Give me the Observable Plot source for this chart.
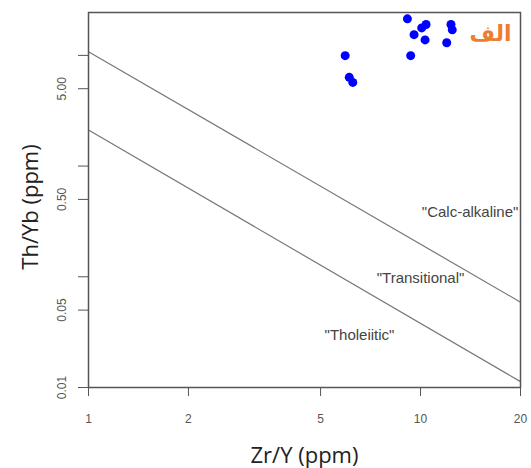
<!DOCTYPE html>
<html>
<head>
<meta charset="utf-8">
<script src="https://cdn.jsdelivr.net/npm/d3@7"></script>
<script src="https://cdn.jsdelivr.net/npm/@observablehq/plot@0.6"></script>
<style>
  html, body { margin: 0; padding: 0; background: #fff; }
  #chart svg { display: block; }
</style>
</head>
<body>
<div id="chart"></div>
<script>
// Samples
const zrY  = [9.13, 10.39, 10.08, 9.56, 10.32, 12.35, 12.46, 11.99, 5.93, 9.34, 6.10, 6.25];
const thYb = [21.4, 19.0, 17.7, 15.4, 13.8, 19.0, 17.0, 13.0, 9.94, 9.94, 6.33, 5.70];

// Discrimination boundaries (endpoints at Zr/Y = 1 and 20)
const boundaryX = [1, 20];
const upperY = [10.8, 0.059];
const lowerY = [2.12, 0.0113];

// Field labels
const fieldNames = ['"Calc-alkaline"', '"Transitional"', '"Tholeiitic"'];
const fieldX = [14.1, 10.0, 6.55];
const fieldY = [0.386, 0.0973, 0.0297];

// Axis ticks
const xTicks = [1, 2, 5, 10, 20];
const yTicks = [0.01, 0.05, 0.1, 0.5, 1, 5, 10];
const yLabelValues = [0.01, 0.05, 0.5, 5];
const yLabelTexts = ["0.01", "0.05", "0.50", "5.00"];

const xTitle = "Zr/Y (ppm)";
const yTitle = "Th/Yb (ppm)";
const badge = "الف";

const points = zrY.map((x, i) => ({x, y: thYb[i]}));
const upper = boundaryX.map((x, i) => ({x, y: upperY[i]}));
const lower = boundaryX.map((x, i) => ({x, y: lowerY[i]}));
const fields = fieldNames.map((name, i) => ({name, x: fieldX[i], y: fieldY[i]}));
const yLabels = yLabelValues.map((v, i) => ({v, t: yLabelTexts[i]}));

const chart = Plot.plot({
  width: 531,
  height: 468,
  marginLeft: 88,
  marginRight: 11,
  marginTop: 12,
  marginBottom: 81,
  style: {fontFamily: "'Liberation Sans', Arial, sans-serif", background: "#fff"},
  x: {type: "log", domain: [1, 20]},
  y: {type: "log", domain: [0.01, 24.4]},
  marks: [
    Plot.line(upper, {x: "x", y: "y", stroke: "#777", strokeWidth: 1.2}),
    Plot.line(lower, {x: "x", y: "y", stroke: "#777", strokeWidth: 1.2}),
    Plot.text(fields, {x: "x", y: "y", text: "name", fontSize: 15, fill: "#444", textAnchor: "middle", lineAnchor: "middle"}),
    Plot.dot(points, {x: "x", y: "y", r: 4.5, fill: "#0000ff", stroke: "none"}),
    Plot.text([badge], {frameAnchor: "top-right", dx: -30, dy: 21, fontSize: 22, fontWeight: "bold",
      fill: "#ED7D31", fontFamily: "'DejaVu Sans', sans-serif", textAnchor: "middle", lineAnchor: "middle"}),
    Plot.frame({stroke: "#555", strokeWidth: 1.5}),
    Plot.axisX({ticks: xTicks, tickFormat: d => String(d), tickSize: 9, tickPadding: 18,
      fontSize: 12, stroke: "#555", color: "#555", label: null}),
    Plot.axisY({ticks: yTicks, tickFormat: null, text: null, tickSize: 10, stroke: "#555", label: null}),
    Plot.text(yLabels, {y: "v", text: "t", frameAnchor: "left", dx: -23, rotate: -90, fontSize: 12,
      fill: "#555", textAnchor: "middle", lineAnchor: "bottom"}),
    Plot.text([xTitle], {frameAnchor: "bottom", dy: 68, fontSize: 22, fill: "#222",
      fontFamily: "'Open Sans', sans-serif", textAnchor: "middle", lineAnchor: "middle"}),
    Plot.text([yTitle], {frameAnchor: "left", dx: -58, dy: 7, rotate: -90, fontSize: 22, fill: "#222",
      fontFamily: "'Open Sans', sans-serif", textAnchor: "middle", lineAnchor: "middle"})
  ]
});
document.getElementById("chart").appendChild(chart);
</script>
</body>
</html>
